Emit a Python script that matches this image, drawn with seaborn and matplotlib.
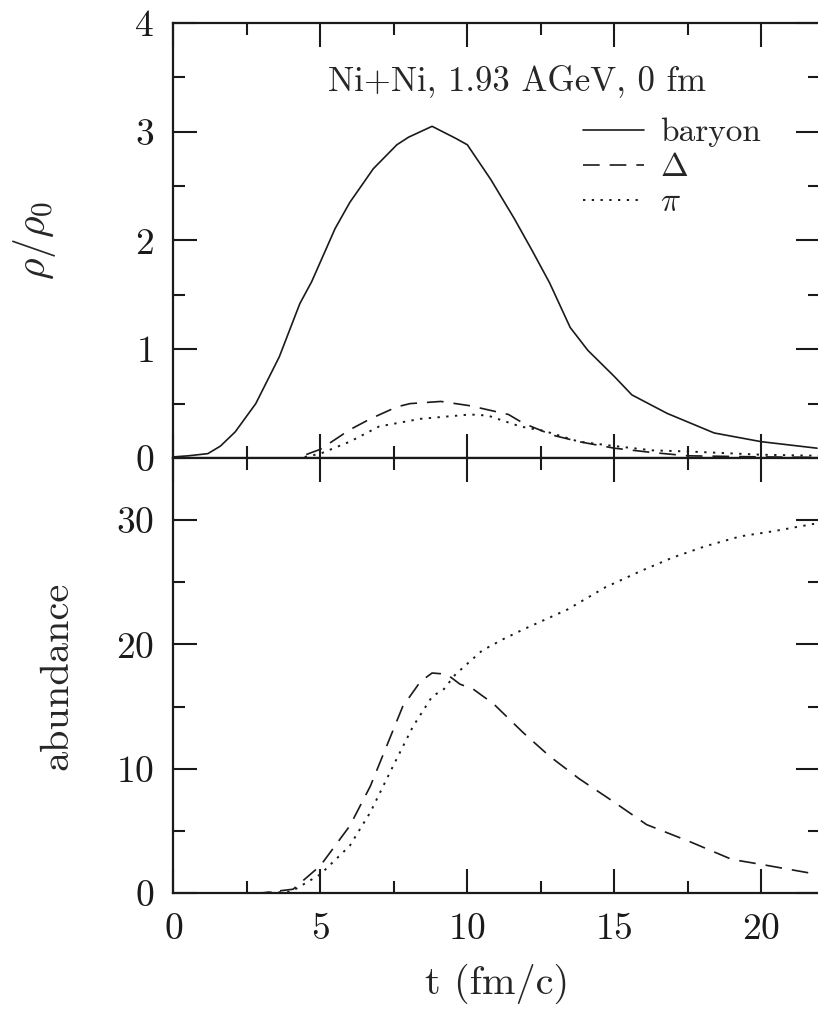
import numpy as np
import pandas as pd
import matplotlib
matplotlib.use('Agg')
import matplotlib.pyplot as plt
from matplotlib.ticker import MultipleLocator
import seaborn as sns

# ρ/ρ0 vs t (upper panel)
t_bar = [0, 0.5, 1.17, 1.6, 2.1, 2.8, 3.6, 4.3, 4.7, 5.5, 6.0, 6.8, 7.6, 8.0, 8.8,
         9.6, 10.0, 10.4, 10.8, 11.6, 12.2, 12.8, 13.5, 14.1, 15.0, 15.6, 16.8,
         17.6, 18.4, 20.0, 21.9]
rho_bar = [0.01, 0.02, 0.04, 0.11, 0.24, 0.5, 0.93, 1.42, 1.62, 2.11, 2.35, 2.66,
           2.88, 2.95, 3.05, 2.94, 2.88, 2.72, 2.56, 2.2, 1.91, 1.61, 1.2, 0.99,
           0.75, 0.58, 0.41, 0.32, 0.23, 0.15, 0.09]

t_del = [0, 3.0, 4.2, 5.0, 6.0, 6.7, 7.6, 8.05, 9.1, 10.1, 11.4, 11.9, 12.9, 13.8,
         15.0, 16.3, 17.5, 20.0, 22.0]
rho_del = [0.0, 0.0, 0.0, 0.08, 0.26, 0.36, 0.47, 0.50, 0.52, 0.48, 0.40, 0.32,
           0.21, 0.15, 0.09, 0.05, 0.02, 0.01, 0.005]

t_pi = [0, 3.0, 4.3, 5.0, 6.0, 7.0, 8.4, 10.1, 10.7, 11.8, 12.6, 13.8, 15.0, 16.3,
        17.5, 20.0, 22.0]
rho_pi = [0.0, 0.0, 0.0, 0.04, 0.15, 0.29, 0.36, 0.40, 0.39, 0.29, 0.25, 0.15,
          0.11, 0.07, 0.06, 0.03, 0.02]

# abundance vs t (lower panel)
t_ndel = [0, 3.0, 4.07, 5.0, 6.0, 6.7, 7.25, 7.8, 8.4, 8.8, 9.3, 9.75, 10.2, 10.9,
          11.9, 12.8, 13.8, 15.0, 16.1, 17.6, 19.0, 20.0, 21.9]
n_del = [0.0, 0.0, 0.3, 2.2, 5.4, 8.6, 11.8, 15.0, 17.0, 17.7, 17.6, 16.8, 16.4,
         15.2, 12.9, 11.0, 9.2, 7.3, 5.5, 4.1, 2.7, 2.3, 1.5]

t_npi = [0, 3.0, 4.0, 5.0, 6.0, 6.7, 7.47, 8.15, 8.8, 9.2, 9.6, 10.5, 11.2, 11.9,
         13.4, 14.7, 15.9, 17.0, 18.1, 19.3, 20.4, 21.8]
n_pi = [0.0, 0.0, 0.1, 1.5, 3.8, 6.5, 10.2, 13.4, 15.8, 16.4, 17.6, 19.5, 20.4,
        21.2, 22.8, 24.6, 25.9, 27.0, 27.9, 28.7, 29.1, 29.7]

sns.set_theme(style='ticks')
plt.rcParams['font.family'] = ['cmr10', 'DejaVu Serif']
plt.rcParams['mathtext.fontset'] = 'cm'
plt.rcParams['axes.formatter.use_mathtext'] = True
plt.rcParams['axes.unicode_minus'] = False

fig = plt.figure(figsize=(8.18, 10.09), dpi=100)
ax1 = fig.add_axes([0.2121, 0.5461, 0.7903, 0.4311])
ax2 = fig.add_axes([0.2121, 0.1150, 0.7903, 0.4311])

dash = (0, (10, 6))
dot = (0, (1.2, 3.3))

sns.lineplot(x=t_bar, y=rho_bar, ax=ax1, color='k', lw=1.2, sort=False,
             label='baryon')
sns.lineplot(x=t_del, y=rho_del, ax=ax1, color='k', lw=1.2, linestyle=dash,
             sort=False, label=r'$\Delta$')
sns.lineplot(x=t_pi, y=rho_pi, ax=ax1, color='k', lw=1.4, linestyle=dot,
             sort=False, label=r'$\pi$')

sns.lineplot(x=t_ndel, y=n_del, ax=ax2, color='k', lw=1.2, linestyle=dash,
             sort=False)
sns.lineplot(x=t_npi, y=n_pi, ax=ax2, color='k', lw=1.4, linestyle=dot,
             sort=False)

for ax in (ax1, ax2):
    ax.set_xlim(0, 22)
    ax.xaxis.set_major_locator(MultipleLocator(5))
    ax.xaxis.set_minor_locator(MultipleLocator(2.5))
    ax.tick_params(which='both', direction='in', top=True, right=True,
                   width=1.5, colors='k', labelsize=27, pad=14)
    ax.tick_params(which='major', length=17)
    ax.tick_params(which='minor', length=8.5)
    for s in ax.spines.values():
        s.set_linewidth(1.6)
        s.set_color('k')
    ax.set_facecolor('white')

ax1.set_ylim(0, 4)
ax1.yaxis.set_major_locator(MultipleLocator(1))
ax1.yaxis.set_minor_locator(MultipleLocator(0.5))
ax1.tick_params(axis='x', labelbottom=False)
ax1.set_ylabel(r'$\rho/\rho_0$', fontsize=30)
ax1.yaxis.set_label_coords(-0.178, 0.5)
ax1.set_xlabel('')

ax2.set_ylim(0, 35)
ax2.yaxis.set_major_locator(MultipleLocator(10))
ax2.yaxis.set_minor_locator(MultipleLocator(5))
ax2.set_ylabel('abundance', fontsize=29)
ax2.yaxis.set_label_coords(-0.152, 0.5)
ax2.set_xlabel('t (fm/c)', fontsize=29, labelpad=13)

ax1.text(0.531, 0.867, 'Ni+Ni, 1.93 AGeV, 0 fm', transform=ax1.transAxes,
         ha='center', va='center', fontsize=25)

leg = ax1.legend(loc='upper left', bbox_to_anchor=(0.633, 0.782), frameon=False,
                 fontsize=24, handlelength=1.83, handletextpad=0.5,
                 labelspacing=0.17, borderaxespad=0, borderpad=0)

fig.savefig('out.png', dpi=100, facecolor='white')
